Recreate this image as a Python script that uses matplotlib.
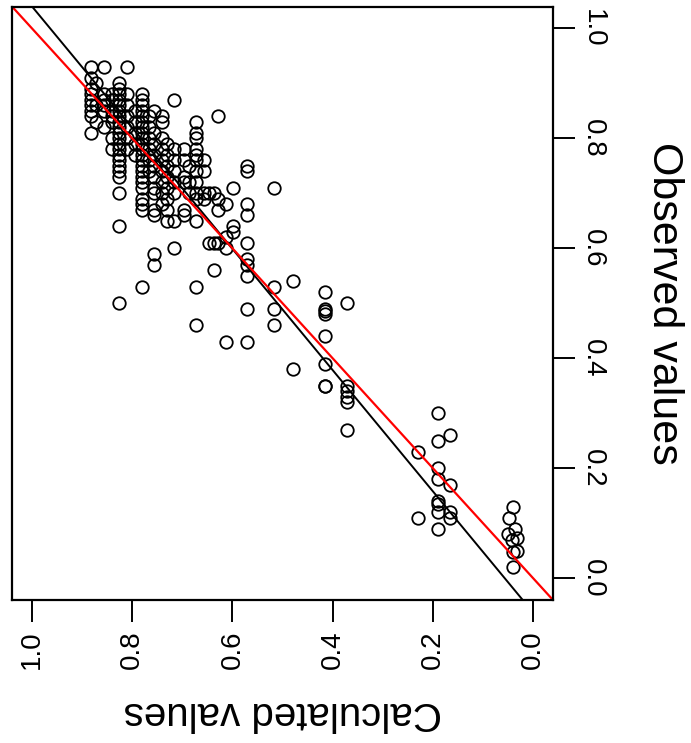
import matplotlib
matplotlib.use('Agg')
import matplotlib.pyplot as plt

plt.rcParams['font.family'] = ['Liberation Sans', 'DejaVu Sans']

# calculated value of each column of points, and the observed values in that column
calc_levels = [0.882, 0.872, 0.856, 0.840, 0.826, 0.810, 0.794, 0.780, 0.766, 0.756,
               0.740, 0.730, 0.716, 0.696, 0.686, 0.672, 0.656, 0.646, 0.636, 0.628,
               0.612, 0.598, 0.570, 0.516, 0.480, 0.416, 0.372, 0.230, 0.190, 0.166]
obs_levels = [
    [0.93, 0.91, 0.89, 0.88, 0.87, 0.86, 0.85, 0.84, 0.81],
    [0.90, 0.86, 0.83],
    [0.93, 0.88, 0.87, 0.86, 0.85, 0.82],
    [0.88, 0.87, 0.85, 0.84, 0.83, 0.80, 0.78],
    [0.90, 0.89, 0.88, 0.87, 0.86, 0.85, 0.84, 0.83, 0.82, 0.81, 0.80, 0.79, 0.78,
     0.77, 0.76, 0.75, 0.74, 0.73, 0.70, 0.64, 0.50],
    [0.93, 0.88, 0.86, 0.84, 0.82, 0.80, 0.78],
    [0.85, 0.83, 0.81, 0.79, 0.77],
    [0.88, 0.87, 0.86, 0.85, 0.84, 0.83, 0.82, 0.81, 0.80, 0.79, 0.78, 0.77, 0.76,
     0.75, 0.74, 0.73, 0.72, 0.71, 0.69, 0.68, 0.67, 0.53],
    [0.84, 0.82, 0.80, 0.78, 0.76, 0.74],
    [0.85, 0.81, 0.79, 0.77, 0.75, 0.73, 0.71, 0.70, 0.67, 0.66, 0.59, 0.57],
    [0.84, 0.83, 0.80, 0.78, 0.76, 0.74, 0.72, 0.70, 0.68],
    [0.79, 0.77, 0.75, 0.73, 0.71, 0.69, 0.67, 0.65],
    [0.87, 0.78, 0.76, 0.74, 0.72, 0.70, 0.65, 0.60],
    [0.78, 0.76, 0.73, 0.72, 0.67, 0.66],
    [0.75, 0.72, 0.70],
    [0.83, 0.81, 0.80, 0.78, 0.77, 0.76, 0.74, 0.72, 0.70, 0.69, 0.65, 0.53, 0.46],
    [0.76, 0.74, 0.70, 0.69],
    [0.70, 0.61],
    [0.70, 0.61, 0.56],
    [0.84, 0.69, 0.67, 0.61],
    [0.68, 0.62, 0.60, 0.43],
    [0.71, 0.64, 0.63],
    [0.75, 0.74, 0.68, 0.66, 0.61, 0.58, 0.57, 0.55, 0.49, 0.43],
    [0.71, 0.53, 0.49, 0.46],
    [0.54, 0.38],
    [0.52, 0.49, 0.485, 0.48, 0.44, 0.39, 0.35, 0.35],
    [0.50, 0.35, 0.34, 0.33, 0.32, 0.27],
    [0.23, 0.11],
    [0.30, 0.25, 0.20, 0.18, 0.14, 0.135, 0.12, 0.09],
    [0.26, 0.17, 0.12, 0.11],
]
# the few points close to zero
low_calc = [0.040, 0.048, 0.036, 0.050, 0.032, 0.042, 0.032, 0.040, 0.040]
low_obs = [0.13, 0.11, 0.09, 0.08, 0.073, 0.07, 0.05, 0.047, 0.02]

fit_intercept = -0.0625
fit_slope = 1.1025

calculated = []
observed = []
for c, obs in zip(calc_levels, obs_levels):
    calculated += [c] * len(obs)
    observed += obs
calculated += low_calc
observed += low_obs

fig = plt.figure(figsize=(6.91, 7.43), dpi=100)
ax = fig.add_axes([12/691, 143/743, 541/691, 593.5/743])

ax.plot(calculated, observed, 'o', ms=9, mfc='none', mec='black', mew=1.3)
ax.axline((0, fit_intercept), slope=fit_slope, color='black', lw=1.4)
ax.axline((0, 0), slope=1, color='red', lw=1.6)

ax.set_xlim(1.04, -0.04)
ax.set_ylim(-0.04, 1.04)
ticks = [0.0, 0.2, 0.4, 0.6, 0.8, 1.0]
ax.set_xticks(ticks)
ax.set_yticks(ticks)
ax.set_xticklabels(['%.1f' % t for t in ticks], rotation=90, fontsize=20)
ax.set_yticklabels(['%.1f' % t for t in ticks], rotation=-90, fontsize=20, va='center')
ax.yaxis.tick_right()
ax.yaxis.set_label_position('right')
ax.tick_params(axis='x', direction='out', length=16, width=1.4, pad=6)
ax.tick_params(axis='y', direction='out', length=16, width=1.4, pad=3)
for s in ax.spines.values():
    s.set_linewidth(1.6)

ax.set_xlabel('Calculated values', fontsize=29, rotation=180, labelpad=18)
ax.set_ylabel('Observed values', fontsize=31, rotation=-90, va='bottom', labelpad=28)

fig.savefig('out.png', dpi=100)
